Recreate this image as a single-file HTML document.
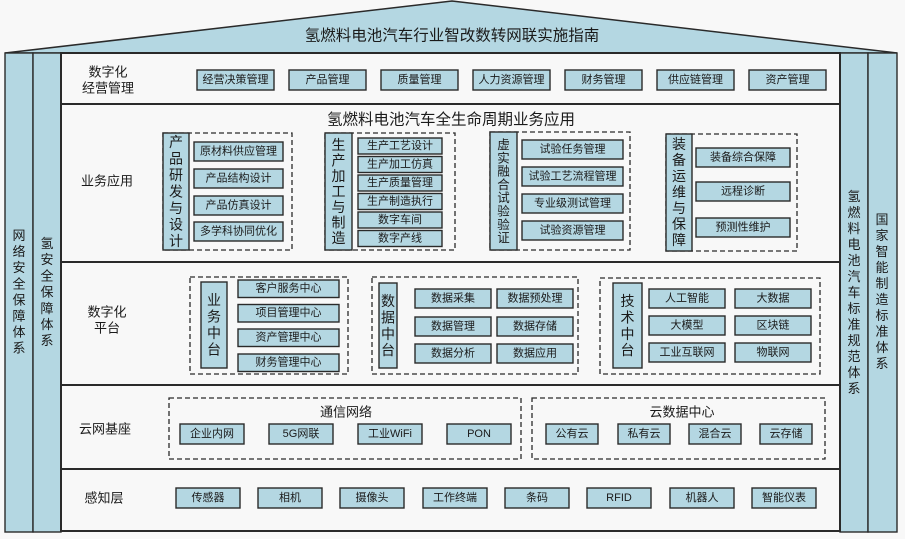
<!DOCTYPE html>
<html><head><meta charset="utf-8"><style>
html,body{margin:0;padding:0;background:#f8f8f8;}
svg{display:block;}
text{font-family:"Liberation Sans","Noto Sans CJK SC",sans-serif;fill:#1a1a1a;}
.bx{fill:#b4d7e2;stroke:#2a2a2a;stroke-width:1.4;}
.dash{fill:none;stroke:#2a2a2a;stroke-width:1.3;stroke-dasharray:5,3;}
.s11{font-size:11px;}
.s13{font-size:13px;}
.s14{font-size:14px;}
</style></head><body>
<svg width="905" height="539" viewBox="0 0 905 539" xmlns="http://www.w3.org/2000/svg">
<rect x="0" y="0" width="905" height="539" fill="#f8f8f8"/>
<!-- roof -->
<polygon points="5,53 452,1 897,53" fill="#b4d7e2" stroke="#2a2a2a" stroke-width="1.5"/>
<text x="452" y="36" text-anchor="middle" dominant-baseline="central" style="font-size:15.5px">氢燃料电池汽车行业智改数转网联实施指南</text>

<!-- side columns -->
<rect x="5" y="53" width="28" height="479" class="bx" stroke-width="1.6"/>
<rect x="33" y="53" width="28" height="479" class="bx" stroke-width="1.6"/>
<rect x="840" y="53" width="28" height="479" class="bx" stroke-width="1.6"/>
<rect x="868" y="53" width="29" height="479" class="bx" stroke-width="1.6"/>

<text class="s13" text-anchor="middle" dominant-baseline="central"><tspan x="19" y="235">网</tspan><tspan x="19" dy="16.1">络</tspan><tspan x="19" dy="16.1">安</tspan><tspan x="19" dy="16.1">全</tspan><tspan x="19" dy="16.1">保</tspan><tspan x="19" dy="16.1">障</tspan><tspan x="19" dy="16.1">体</tspan><tspan x="19" dy="16.1">系</tspan></text>
<text class="s13" text-anchor="middle" dominant-baseline="central"><tspan x="47" y="243">氢</tspan><tspan x="47" dy="16.2">安</tspan><tspan x="47" dy="16.2">全</tspan><tspan x="47" dy="16.2">保</tspan><tspan x="47" dy="16.2">障</tspan><tspan x="47" dy="16.2">体</tspan><tspan x="47" dy="16.2">系</tspan></text>
<text class="s13" text-anchor="middle" dominant-baseline="central"><tspan x="854" y="196">氢</tspan><tspan x="854" dy="16">燃</tspan><tspan x="854" dy="16">料</tspan><tspan x="854" dy="16">电</tspan><tspan x="854" dy="16">池</tspan><tspan x="854" dy="16">汽</tspan><tspan x="854" dy="16">车</tspan><tspan x="854" dy="16">标</tspan><tspan x="854" dy="16">准</tspan><tspan x="854" dy="16">规</tspan><tspan x="854" dy="16">范</tspan><tspan x="854" dy="16">体</tspan><tspan x="854" dy="16">系</tspan></text>
<text class="s13" text-anchor="middle" dominant-baseline="central"><tspan x="882" y="219">国</tspan><tspan x="882" dy="16">家</tspan><tspan x="882" dy="16">智</tspan><tspan x="882" dy="16">能</tspan><tspan x="882" dy="16">制</tspan><tspan x="882" dy="16">造</tspan><tspan x="882" dy="16">标</tspan><tspan x="882" dy="16">准</tspan><tspan x="882" dy="16">体</tspan><tspan x="882" dy="16">系</tspan></text>

<!-- main area -->
<rect x="61" y="53" width="779" height="478" fill="#f8f8f8" stroke="#2a2a2a" stroke-width="2"/>
<line x1="61" y1="104" x2="840" y2="104" stroke="#2a2a2a" stroke-width="2"/>
<line x1="61" y1="262" x2="840" y2="262" stroke="#2a2a2a" stroke-width="2"/>
<line x1="61" y1="385" x2="840" y2="385" stroke="#2a2a2a" stroke-width="2"/>
<line x1="61" y1="469" x2="840" y2="469" stroke="#2a2a2a" stroke-width="2"/>

<!-- Row 1 -->
<text class="s13" x="108" y="72" text-anchor="middle" dominant-baseline="central">数字化</text>
<text class="s13" x="108" y="88" text-anchor="middle" dominant-baseline="central">经营管理</text>
<g class="s11" text-anchor="middle" dominant-baseline="central">
<rect class="bx" x="197" y="70" width="77" height="20"/><text x="235.5" y="80">经营决策管理</text>
<rect class="bx" x="289" y="70" width="77" height="20"/><text x="327.5" y="80">产品管理</text>
<rect class="bx" x="381" y="70" width="77" height="20"/><text x="419.5" y="80">质量管理</text>
<rect class="bx" x="473" y="70" width="77" height="20"/><text x="511.5" y="80">人力资源管理</text>
<rect class="bx" x="565" y="70" width="77" height="20"/><text x="603.5" y="80">财务管理</text>
<rect class="bx" x="657" y="70" width="77" height="20"/><text x="695.5" y="80">供应链管理</text>
<rect class="bx" x="749" y="70" width="77" height="20"/><text x="787.5" y="80">资产管理</text>
</g>

<!-- Row 2 -->
<text x="451" y="120" text-anchor="middle" dominant-baseline="central" style="font-size:15.5px">氢燃料电池汽车全生命周期业务应用</text>
<text class="s13" x="107" y="181" text-anchor="middle" dominant-baseline="central">业务应用</text>

<!-- group 1 -->
<rect class="dash" x="163" y="133" width="129" height="117"/>
<rect class="bx" x="163" y="133" width="26" height="117"/>
<text class="s14" text-anchor="middle" dominant-baseline="central"><tspan x="176" y="142">产</tspan><tspan x="176" dy="16.5">品</tspan><tspan x="176" dy="16.5">研</tspan><tspan x="176" dy="16.5">发</tspan><tspan x="176" dy="16.5">与</tspan><tspan x="176" dy="16.5">设</tspan><tspan x="176" dy="16.5">计</tspan></text>
<g class="s11" text-anchor="middle" dominant-baseline="central">
<rect class="bx" x="194" y="142" width="89" height="19"/><text x="238.5" y="151.5">原材料供应管理</text>
<rect class="bx" x="194" y="169" width="89" height="19"/><text x="238.5" y="178.5">产品结构设计</text>
<rect class="bx" x="194" y="196" width="89" height="19"/><text x="238.5" y="205.5">产品仿真设计</text>
<rect class="bx" x="194" y="222" width="89" height="19"/><text x="238.5" y="231.5">多学科协同优化</text>
</g>

<!-- group 2 -->
<rect class="dash" x="325" y="133" width="130" height="117"/>
<rect class="bx" x="325" y="133" width="27" height="117"/>
<text class="s14" text-anchor="middle" dominant-baseline="central"><tspan x="338.5" y="145">生</tspan><tspan x="338.5" dy="15.5">产</tspan><tspan x="338.5" dy="15.5">加</tspan><tspan x="338.5" dy="15.5">工</tspan><tspan x="338.5" dy="15.5">与</tspan><tspan x="338.5" dy="15.5">制</tspan><tspan x="338.5" dy="15.5">造</tspan></text>
<g class="s11" text-anchor="middle" dominant-baseline="central">
<rect class="bx" x="358" y="138" width="84" height="16"/><text x="400" y="146">生产工艺设计</text>
<rect class="bx" x="358" y="156.5" width="84" height="16"/><text x="400" y="164.5">生产加工仿真</text>
<rect class="bx" x="358" y="175" width="84" height="16"/><text x="400" y="183">生产质量管理</text>
<rect class="bx" x="358" y="193.5" width="84" height="16"/><text x="400" y="201.5">生产制造执行</text>
<rect class="bx" x="358" y="212" width="84" height="16"/><text x="400" y="220">数字车间</text>
<rect class="bx" x="358" y="230.5" width="84" height="16"/><text x="400" y="238.5">数字产线</text>
</g>

<!-- group 3 -->
<rect class="dash" x="490" y="132" width="140" height="118"/>
<rect class="bx" x="490" y="132" width="27" height="118"/>
<text text-anchor="middle" dominant-baseline="central" style="font-size:12.5px"><tspan x="503.5" y="145">虚</tspan><tspan x="503.5" dy="13.3">实</tspan><tspan x="503.5" dy="13.3">融</tspan><tspan x="503.5" dy="13.3">合</tspan><tspan x="503.5" dy="13.3">试</tspan><tspan x="503.5" dy="13.3">验</tspan><tspan x="503.5" dy="13.3">验</tspan><tspan x="503.5" dy="13.3">证</tspan></text>
<g class="s11" text-anchor="middle" dominant-baseline="central">
<rect class="bx" x="522" y="140" width="101" height="19"/><text x="572.5" y="149.5">试验任务管理</text>
<rect class="bx" x="522" y="167" width="101" height="19"/><text x="572.5" y="176.5">试验工艺流程管理</text>
<rect class="bx" x="522" y="194" width="101" height="19"/><text x="572.5" y="203.5">专业级测试管理</text>
<rect class="bx" x="522" y="221" width="101" height="19"/><text x="572.5" y="230.5">试验资源管理</text>
</g>

<!-- group 4 -->
<rect class="dash" x="666" y="134" width="131" height="117"/>
<rect class="bx" x="666" y="134" width="26" height="117"/>
<text class="s14" text-anchor="middle" dominant-baseline="central"><tspan x="679" y="144">装</tspan><tspan x="679" dy="16">备</tspan><tspan x="679" dy="16">运</tspan><tspan x="679" dy="16">维</tspan><tspan x="679" dy="16">与</tspan><tspan x="679" dy="16">保</tspan><tspan x="679" dy="16">障</tspan></text>
<g class="s11" text-anchor="middle" dominant-baseline="central">
<rect class="bx" x="696" y="148" width="94" height="19"/><text x="743" y="157.5">装备综合保障</text>
<rect class="bx" x="696" y="182" width="94" height="19"/><text x="743" y="191.5">远程诊断</text>
<rect class="bx" x="696" y="218" width="94" height="19"/><text x="743" y="227.5">预测性维护</text>
</g>

<!-- Row 3 -->
<text class="s13" x="107" y="312" text-anchor="middle" dominant-baseline="central">数字化</text>
<text class="s13" x="107" y="328" text-anchor="middle" dominant-baseline="central">平台</text>

<!-- group A -->
<rect class="dash" x="190" y="277" width="158" height="97"/>
<rect class="bx" x="201" y="282" width="26" height="86"/>
<text class="s14" text-anchor="middle" dominant-baseline="central"><tspan x="214" y="300">业</tspan><tspan x="214" dy="16.5">务</tspan><tspan x="214" dy="16.5">中</tspan><tspan x="214" dy="16.5">台</tspan></text>
<g class="s11" text-anchor="middle" dominant-baseline="central">
<rect class="bx" x="238" y="280" width="101" height="17.5"/><text x="288.5" y="288.7">客户服务中心</text>
<rect class="bx" x="238" y="304.5" width="101" height="17.5"/><text x="288.5" y="313.2">项目管理中心</text>
<rect class="bx" x="238" y="329" width="101" height="17.5"/><text x="288.5" y="337.7">资产管理中心</text>
<rect class="bx" x="238" y="354" width="101" height="17.5"/><text x="288.5" y="362.7">财务管理中心</text>
</g>

<!-- group B -->
<rect class="dash" x="372" y="277" width="206" height="97"/>
<rect class="bx" x="379" y="283" width="18" height="85"/>
<text class="s14" text-anchor="middle" dominant-baseline="central"><tspan x="388" y="301">数</tspan><tspan x="388" dy="16.4">据</tspan><tspan x="388" dy="16.4">中</tspan><tspan x="388" dy="16.4">台</tspan></text>
<g class="s11" text-anchor="middle" dominant-baseline="central">
<rect class="bx" x="415" y="289" width="76" height="19"/><text x="453" y="298.5">数据采集</text>
<rect class="bx" x="497" y="289" width="76" height="19"/><text x="535" y="298.5">数据预处理</text>
<rect class="bx" x="415" y="317" width="76" height="19"/><text x="453" y="326.5">数据管理</text>
<rect class="bx" x="497" y="317" width="76" height="19"/><text x="535" y="326.5">数据存储</text>
<rect class="bx" x="415" y="344" width="76" height="19"/><text x="453" y="353.5">数据分析</text>
<rect class="bx" x="497" y="344" width="76" height="19"/><text x="535" y="353.5">数据应用</text>
</g>

<!-- group C -->
<rect class="dash" x="600" y="278" width="220" height="96"/>
<rect class="bx" x="613" y="283" width="29" height="85"/>
<text class="s14" text-anchor="middle" dominant-baseline="central"><tspan x="627.5" y="301">技</tspan><tspan x="627.5" dy="16.4">术</tspan><tspan x="627.5" dy="16.4">中</tspan><tspan x="627.5" dy="16.4">台</tspan></text>
<g class="s11" text-anchor="middle" dominant-baseline="central">
<rect class="bx" x="649" y="289" width="76" height="19"/><text x="687" y="298.5">人工智能</text>
<rect class="bx" x="735" y="289" width="76" height="19"/><text x="773" y="298.5">大数据</text>
<rect class="bx" x="649" y="316" width="76" height="19"/><text x="687" y="325.5">大模型</text>
<rect class="bx" x="735" y="316" width="76" height="19"/><text x="773" y="325.5">区块链</text>
<rect class="bx" x="649" y="343" width="76" height="19"/><text x="687" y="352.5">工业互联网</text>
<rect class="bx" x="735" y="343" width="76" height="19"/><text x="773" y="352.5">物联网</text>
</g>

<!-- Row 4 -->
<text class="s13" x="105" y="429" text-anchor="middle" dominant-baseline="central">云网基座</text>
<rect class="dash" x="169" y="398" width="352" height="61"/>
<text class="s13" x="346" y="412" text-anchor="middle" dominant-baseline="central">通信网络</text>
<rect class="dash" x="532" y="398" width="293" height="61"/>
<text class="s13" x="682" y="412" text-anchor="middle" dominant-baseline="central">云数据中心</text>
<g class="s11" text-anchor="middle" dominant-baseline="central">
<rect class="bx" x="180" y="424" width="64" height="20"/><text x="212" y="434">企业内网</text>
<rect class="bx" x="269" y="424" width="64" height="20"/><text x="301" y="434">5G网联</text>
<rect class="bx" x="358" y="424" width="64" height="20"/><text x="390" y="434">工业WiFi</text>
<rect class="bx" x="447" y="424" width="64" height="20"/><text x="479" y="434">PON</text>
<rect class="bx" x="546" y="424" width="52" height="20"/><text x="572" y="434">公有云</text>
<rect class="bx" x="618" y="424" width="52" height="20"/><text x="644" y="434">私有云</text>
<rect class="bx" x="689" y="424" width="52" height="20"/><text x="715" y="434">混合云</text>
<rect class="bx" x="760" y="424" width="52" height="20"/><text x="786" y="434">云存储</text>
</g>

<!-- Row 5 -->
<text class="s13" x="104" y="498" text-anchor="middle" dominant-baseline="central">感知层</text>
<g class="s11" text-anchor="middle" dominant-baseline="central">
<rect class="bx" x="176" y="488" width="64" height="20"/><text x="208" y="498">传感器</text>
<rect class="bx" x="258" y="488" width="64" height="20"/><text x="290" y="498">相机</text>
<rect class="bx" x="340" y="488" width="64" height="20"/><text x="372" y="498">摄像头</text>
<rect class="bx" x="423" y="488" width="64" height="20"/><text x="455" y="498">工作终端</text>
<rect class="bx" x="505" y="488" width="64" height="20"/><text x="537" y="498">条码</text>
<rect class="bx" x="587" y="488" width="64" height="20"/><text x="619" y="498">RFID</text>
<rect class="bx" x="670" y="488" width="64" height="20"/><text x="702" y="498">机器人</text>
<rect class="bx" x="752" y="488" width="64" height="20"/><text x="784" y="498">智能仪表</text>
</g>
</svg>
</body></html>
